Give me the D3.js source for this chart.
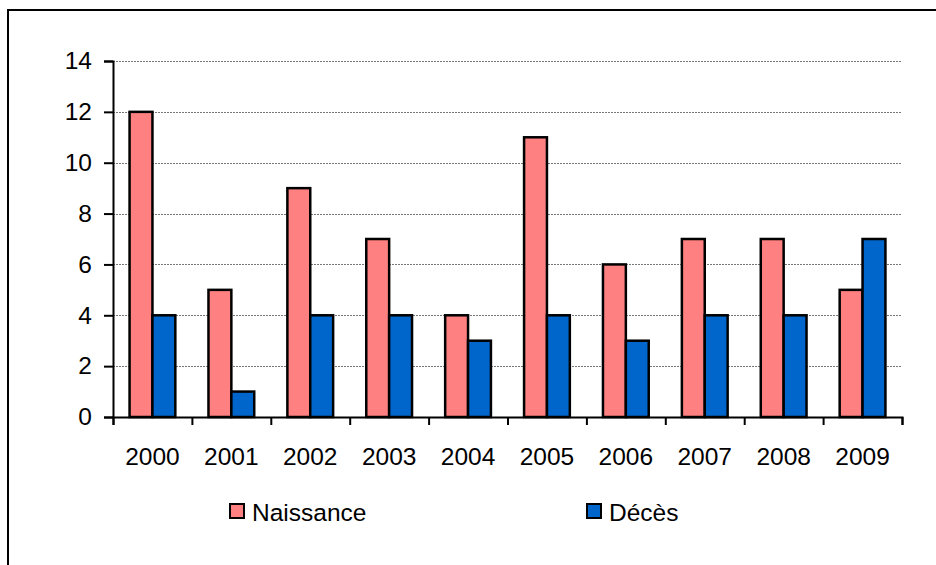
<!DOCTYPE html>
<html>
<head>
<meta charset="utf-8">
<script src="https://cdn.jsdelivr.net/npm/d3@7"></script>
<style>
  html, body { margin: 0; padding: 0; background: #fff; }
  svg { display: block; }
  svg text { font-family: "Liberation Sans", Arial, sans-serif; fill: #000; }
</style>
</head>
<body>
<svg id="chart" width="936" height="565"></svg>
<script>
// Births and deaths per year
const years = ["2000", "2001", "2002", "2003", "2004", "2005", "2006", "2007", "2008", "2009"];
const naissance = [12, 5, 9, 7, 4, 11, 6, 7, 7, 5];
const deces = [4, 1, 4, 4, 3, 4, 3, 4, 4, 7];
const seriesNames = ["Naissance", "Décès"];
const seriesColors = ["#FF8080", "#0066CC"];
const yTicks = [0, 2, 4, 6, 8, 10, 12, 14];

const svg = d3.select("#chart");
const W = 936, H = 565;
const plotLeft = 113, plotRight = 902, plotTop = 61, plotBottom = 417;
const fontSize = 24.5;
const fontFamily = "Liberation Sans, Arial, sans-serif";

// Outer frame (runs off the right and bottom edges)
svg.append("rect")
  .attr("x", 8).attr("y", 10)
  .attr("width", W).attr("height", H)
  .attr("fill", "#fff").attr("stroke", "#000").attr("stroke-width", 2);

const x0 = d3.scaleBand().domain(years).range([plotLeft, plotRight])
  .paddingInner(0.42).paddingOuter(0.21);
const x1 = d3.scaleBand().domain(seriesNames).range([0, x0.bandwidth()]);
const y = d3.scaleLinear().domain([0, 14]).range([plotBottom, plotTop]);

// Horizontal gridlines
svg.append("g").selectAll("line")
  .data(yTicks.filter(d => d > 0))
  .join("line")
  .attr("x1", plotLeft).attr("x2", plotRight)
  .attr("y1", d => Math.round(y(d)) + 0.5).attr("y2", d => Math.round(y(d)) + 0.5)
  .attr("stroke", "#777").attr("stroke-width", 1)
  .attr("stroke-dasharray", "2,1");

// Bars
const data = years.map((yr, i) => ({ year: yr, values: [naissance[i], deces[i]] }));
const groups = svg.append("g").selectAll("g")
  .data(data).join("g")
  .attr("transform", d => `translate(${x0(d.year)},0)`);
groups.selectAll("rect")
  .data(d => d.values.map((v, k) => ({ name: seriesNames[k], value: v, color: seriesColors[k] })))
  .join("rect")
  .attr("x", d => x1(d.name))
  .attr("y", d => y(d.value))
  .attr("width", x1.bandwidth())
  .attr("height", d => y(0) - y(d.value))
  .attr("fill", d => d.color)
  .attr("stroke", "#000").attr("stroke-width", 2.5);

// Y axis
const yAxis = d3.axisLeft(y).tickValues(yTicks).tickSize(9).tickPadding(12);
const gy = svg.append("g").attr("transform", `translate(${plotLeft},0)`).call(yAxis)
  .attr("font-family", fontFamily).attr("font-size", fontSize);
gy.select(".domain").attr("stroke-width", 2);
gy.selectAll(".tick line").attr("stroke-width", 2);
gy.selectAll("text").attr("fill", "#000");

// X axis: ticks sit on the category boundaries
const xAxisScale = d3.scaleLinear().domain([0, years.length]).range([plotLeft, plotRight]);
const gx = svg.append("g").attr("transform", `translate(0,${plotBottom})`)
  .call(d3.axisBottom(xAxisScale).tickValues(d3.range(0, years.length + 1)).tickSize(8).tickFormat(""));
gx.select(".domain").attr("stroke-width", 2);
gx.selectAll(".tick line").attr("stroke-width", 2);

svg.append("g").selectAll("text")
  .data(years).join("text")
  .attr("x", d => x0(d) + x0.bandwidth() / 2)
  .attr("y", 465)
  .attr("text-anchor", "middle")
  .attr("font-family", fontFamily)
  .attr("font-size", fontSize)
  .text(d => d);

// Legend
const legendX = [230, 587];
const legend = svg.append("g").selectAll("g")
  .data(seriesNames).join("g")
  .attr("transform", (d, i) => `translate(${legendX[i]},504)`);
legend.append("rect")
  .attr("width", 14).attr("height", 14)
  .attr("fill", (d, i) => seriesColors[i])
  .attr("stroke", "#000").attr("stroke-width", 2);
legend.append("text")
  .attr("x", 22).attr("y", 17)
  .attr("font-family", fontFamily)
  .attr("font-size", fontSize)
  .text(d => d);
</script>
</body>
</html>
